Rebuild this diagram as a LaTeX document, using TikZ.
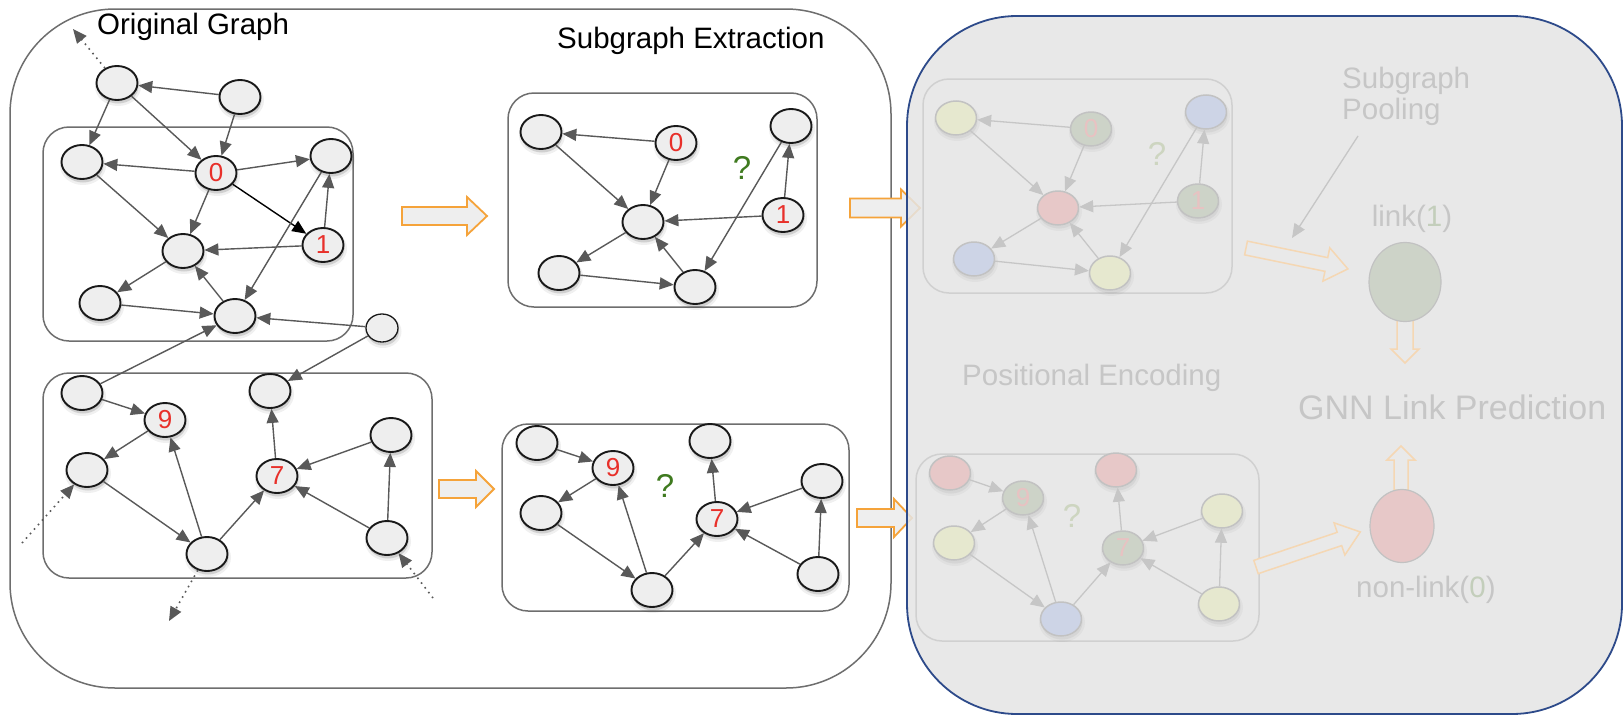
\documentclass[tikz,border=0pt]{standalone}
\usepackage{fontspec}
\setmainfont{Liberation Sans}
\usetikzlibrary{arrows.meta,shapes.geometric}

\definecolor{edgegray}{HTML}{595959}
\definecolor{framegray}{HTML}{6E6E6E}
\definecolor{nodefill}{HTML}{EEEEEE}
\definecolor{labelred}{HTML}{E8302A}
\definecolor{qgreen}{HTML}{3F7A1F}
\definecolor{arroworange}{HTML}{F5A33A}
\definecolor{panelfill}{HTML}{E5E5E5}
\definecolor{panelbg}{HTML}{E9E9E9}
\definecolor{panelblue}{HTML}{2D4A8A}
\definecolor{fadeedge}{HTML}{C6C6C6}
\definecolor{fadeborder}{HTML}{C2C2C2}
\definecolor{fadebox}{HTML}{D0D0D0}
\definecolor{fadetext}{HTML}{C6C6C6}
\definecolor{fadered}{HTML}{E8C2C2}
\definecolor{fadeq}{HTML}{CDD5C0}
\definecolor{fadeorange}{HTML}{F5D7B3}
\definecolor{fadeyellow}{HTML}{E6E8CF}
\definecolor{fadegreen}{HTML}{CDD3C8}
\definecolor{fadepink}{HTML}{E7C8C8}
\definecolor{fadeblue}{HTML}{CDD4E6}
\definecolor{fadegreentext}{HTML}{C3CEBB}

\tikzset{
  outerframe/.style={draw=framegray, line width=1.5pt, rounded corners=105pt},
  subbox/.style={draw=framegray, line width=1.5pt, rounded corners=26pt},
  nshadow/.style={preaction={fill=black, fill opacity=0.13, draw=black, draw opacity=0.06,
      line width=5pt, transform canvas={xshift=1pt,yshift=-3.5pt}}},
  fshadow/.style={preaction={fill=black, fill opacity=0.05, draw=black, draw opacity=0.03,
      line width=5pt, transform canvas={xshift=1pt,yshift=-3.5pt}}},
  gnode/.style={ellipse, draw=black!90, line width=1.9pt, fill=nodefill,
      minimum width=41pt, minimum height=34pt, inner sep=0pt, text=labelred,
      font=\fontsize{26}{26}\selectfont, nshadow},
  smallnode/.style={gnode, minimum width=32pt, minimum height=28pt, line width=1.3pt},
  conn/.style={draw=edgegray, line width=1.4pt, -{Triangle[length=14pt,width=12pt]}},
  connk/.style={conn, draw=black},
  dotconn/.style={conn, line width=1.6pt, dash pattern=on 1.6pt off 4.4pt},
  lbl/.style={font=\fontsize{29.5}{31}\selectfont, inner sep=0pt, anchor=base west},
  qmark/.style={font=\fontsize{33}{33}\selectfont, text=qgreen, inner sep=0pt},
  fnode/.style={ellipse, draw=fadeborder, line width=1.5pt,
      minimum width=41pt, minimum height=34pt, inner sep=0pt, text=fadered,
      font=\fontsize{26}{26}\selectfont, fshadow},
  fy/.style={fnode, fill=fadeyellow},
  fg/.style={fnode, fill=fadegreen},
  fr/.style={fnode, fill=fadepink},
  fb/.style={fnode, fill=fadeblue},
  fconn/.style={draw=fadeedge, line width=1.3pt, -{Triangle[length=14pt,width=12pt]}},
  fbox/.style={draw=fadebox, line width=1.5pt, rounded corners=26pt},
  flbl/.style={lbl, text=fadetext},
  fq/.style={qmark, text=fadeq},
  oarrow/.style={draw=arroworange, fill=nodefill, line width=1.8pt},
  foarrow/.style={draw=fadeorange, fill=panelbg, line width=1.5pt},
  pics/blockarrow/.style args={#1/#2/#3/#4}{code={
    \path[pic actions] (0,-#3) -- ({#1-#2},-#3) -- ({#1-#2},-#4) -- (#1,0)
      -- ({#1-#2},#4) -- ({#1-#2},#3) -- (0,#3) -- cycle;
  }}
}

\begin{document}
\begin{tikzpicture}[x=1pt,y=-1pt]
\useasboundingbox (0,0) rectangle (1624,715);
\fill[white] (0,0) rectangle (1624,715);

% ---------------- left panel: original graph and extracted subgraphs
\draw[outerframe] (10,9) rectangle (891,688);
\node[lbl] (tog) at (97,34) {Original Graph};
\node[lbl] (tse) at (557,48) {Subgraph Extraction};

\draw[subbox] (43,127) rectangle (353,341);
\draw[subbox] (43,373) rectangle (432,578);

% upper neighbourhood
\node[gnode] (a1) at (117,83) {};
\node[gnode] (a2) at (240,97) {};
\node[gnode] (b1) at (82,162) {};
\node[gnode] (n0) at (216,173) {0};
\node[gnode] (b2) at (331,156) {};
\node[gnode] (c0) at (183,251) {};
\node[gnode] (n1) at (323,245) {1};
\node[gnode] (d1) at (100,303) {};
\node[gnode] (d2) at (235,316) {};
\node[smallnode] (e0) at (382,328) {};

% lower neighbourhood
\node[gnode] (l1) at (82,393) {};
\node[gnode] (n9) at (165,420) {9};
\node[gnode] (l2) at (270,391) {};
\node[gnode] (l3) at (87,470) {};
\node[gnode] (n7) at (277,476) {7};
\node[gnode] (l4) at (391,435) {};
\node[gnode] (l5) at (207,554) {};
\node[gnode] (l6) at (387,538) {};

\coordinate (o1) at (73,29);
\coordinate (o2) at (22,543);
\coordinate (o3) at (169,621);
\coordinate (o4) at (433,598);

\draw[conn] (a2) -- (a1);
\draw[conn] (a1) -- (b1);
\draw[conn] (a1) -- (n0);
\draw[conn] (a2) -- (n0);
\draw[conn] (n0) -- (b1);
\draw[conn] (n0) -- (b2);
\draw[connk] (n0) -- (n1);
\draw[conn] (n0) -- (c0);
\draw[conn] (b1) -- (c0);
\draw[conn] (n1) -- (b2);
\draw[conn] (n1) -- (c0);
\draw[conn] (b2) -- (d2);
\draw[conn] (c0) -- (d1);
\draw[conn] (d2) -- (c0);
\draw[conn] (d1) -- (d2);
\draw[conn] (e0) -- (d2);
\draw[conn] (l1) -- (d2);
\draw[conn] (e0) -- (l2);
\draw[dotconn] (a1) -- (o1);

\draw[conn] (l1) -- (n9);
\draw[conn] (n9) -- (l3);
\draw[conn] (l3) -- (l5);
\draw[conn] (l5) -- (n9);
\draw[conn] (l5) -- (n7);
\draw[conn] (n7) -- (l2);
\draw[conn] (l4) -- (n7);
\draw[conn] (l6) -- (n7);
\draw[conn] (l6) -- (l4);
\draw[dotconn] (o2) -- (l3);
\draw[dotconn] (l5) -- (o3);
\draw[dotconn] (o4) -- (l6);

% extracted subgraph around 0 and 1
\draw[subbox] (508,93) rectangle (817,307);
\node[gnode] (s1) at (541,132) {};
\node[gnode] (s0) at (676,143) {0};
\node[gnode] (s2) at (791,126) {};
\node[gnode] (sc) at (643,222) {};
\node[gnode] (sn1) at (783,215) {1};
\node[gnode] (sd1) at (559,273) {};
\node[gnode] (sd2) at (695,287) {};
\node[qmark] (sq) at (742,168) {?};
\draw[conn] (s0) -- (s1);
\draw[conn] (s1) -- (sc);
\draw[conn] (s0) -- (sc);
\draw[conn] (sn1) -- (sc);
\draw[conn] (sn1) -- (s2);
\draw[conn] (s2) -- (sd2);
\draw[conn] (sc) -- (sd1);
\draw[conn] (sd1) -- (sd2);
\draw[conn] (sd2) -- (sc);

% extracted subgraph around 9 and 7
\draw[subbox] (502,424) rectangle (849,611);
\node[gnode] (t1) at (537,443) {};
\node[gnode] (t9) at (613,468) {9};
\node[gnode] (t2) at (710,441) {};
\node[gnode] (t3) at (541,513) {};
\node[gnode] (t7) at (717,519) {7};
\node[gnode] (t4) at (822,481) {};
\node[gnode] (t5) at (652,590) {};
\node[gnode] (t6) at (818,574) {};
\node[qmark] (tq) at (665,486) {?};
\draw[conn] (t1) -- (t9);
\draw[conn] (t9) -- (t3);
\draw[conn] (t3) -- (t5);
\draw[conn] (t5) -- (t9);
\draw[conn] (t5) -- (t7);
\draw[conn] (t7) -- (t2);
\draw[conn] (t4) -- (t7);
\draw[conn] (t6) -- (t7);
\draw[conn] (t6) -- (t4);

% block arrows between stages
\pic[oarrow] at (402,216) {blockarrow=85/20/9/19};
\pic[oarrow] at (439,489) {blockarrow=55/18/9/18};
\pic[oarrow] at (850,208) {blockarrow=70/19/9.5/18.5};
\pic[oarrow] at (857,518) {blockarrow=55/18/9/19};

% ---------------- right panel: encoding, pooling and prediction
\fill[panelfill, fill opacity=0.85, rounded corners=110pt] (907,16) rectangle (1622,714);

\node[flbl] (tpe) at (962,385) {Positional Encoding};

% encoded subgraph around 0 and 1
\draw[fbox] (923,79) rectangle (1232,293);
\node[fy] (p1) at (956,118) {};
\node[fg] (p0) at (1091,129) {0};
\node[fb] (p2) at (1206,112) {};
\node[fr] (pc) at (1058,208) {};
\node[fg] (pn1) at (1198,201) {1};
\node[fb] (pd1) at (974,259) {};
\node[fy] (pd2) at (1110,273) {};
\node[fq] (pq) at (1157,154) {?};
\draw[fconn] (p0) -- (p1);
\draw[fconn] (p1) -- (pc);
\draw[fconn] (p0) -- (pc);
\draw[fconn] (pn1) -- (pc);
\draw[fconn] (pn1) -- (p2);
\draw[fconn] (p2) -- (pd2);
\draw[fconn] (pc) -- (pd1);
\draw[fconn] (pd1) -- (pd2);
\draw[fconn] (pd2) -- (pc);

% encoded subgraph around 9 and 7
\draw[fbox] (916,454) rectangle (1259,641);
\node[fr] (q1) at (950,473) {};
\node[fg] (q9) at (1023,498) {9};
\node[fr] (q2) at (1116,470) {};
\node[fy] (q3) at (954,543) {};
\node[fg] (q7) at (1123,548) {7};
\node[fy] (q4) at (1222,511) {};
\node[fb] (q5) at (1061,619) {};
\node[fy] (q6) at (1219,604) {};
\node[fq] (qq) at (1072,516) {?};
\draw[fconn] (q1) -- (q9);
\draw[fconn] (q9) -- (q3);
\draw[fconn] (q3) -- (q5);
\draw[fconn] (q5) -- (q9);
\draw[fconn] (q5) -- (q7);
\draw[fconn] (q7) -- (q2);
\draw[fconn] (q4) -- (q7);
\draw[fconn] (q6) -- (q7);
\draw[fconn] (q6) -- (q4);

% pooling and prediction
\node[flbl] (sp1) at (1342,88) {Subgraph};
\node[flbl] (sp2) at (1342,119) {Pooling};
\coordinate (poolfrom) at (1358,136);
\coordinate (poolto) at (1292,238);
\draw[fconn] (poolfrom) -- (poolto);

\pic[foarrow, rotate=-11.6] at (1246,248) {blockarrow=104/22/7/17};
\pic[foarrow, rotate=18.6] at (1256,567) {blockarrow=110/22/7/17};
\pic[foarrow, rotate=-90] at (1405,318) {blockarrow=45/14/8/14};
\pic[foarrow, rotate=90] at (1401,490) {blockarrow=44/14/7/14};

\node[flbl, anchor=base] (tlink) at (1412,226) {link(\textcolor{fadegreentext}{1})};
\node[ellipse, fill=fadegreen, draw=fadeborder, line width=1.2pt, minimum width=72pt, minimum height=79pt] (gc) at (1405,282) {};
\node[font=\fontsize{34}{36}\selectfont, text=fadetext, inner sep=0pt, anchor=base west] (tgnn) at (1298,419) {GNN Link Prediction};
\node[ellipse, fill=fadepink, draw=fadeborder, line width=1.2pt, minimum width=64pt, minimum height=73pt] (rc) at (1402,526) {};
\node[flbl] (tnon) at (1356,597) {non-link(\textcolor{fadegreentext}{0})};

\draw[draw=panelblue, line width=1.8pt, rounded corners=110pt] (907,16) rectangle (1622,714);
\end{tikzpicture}
\end{document}
